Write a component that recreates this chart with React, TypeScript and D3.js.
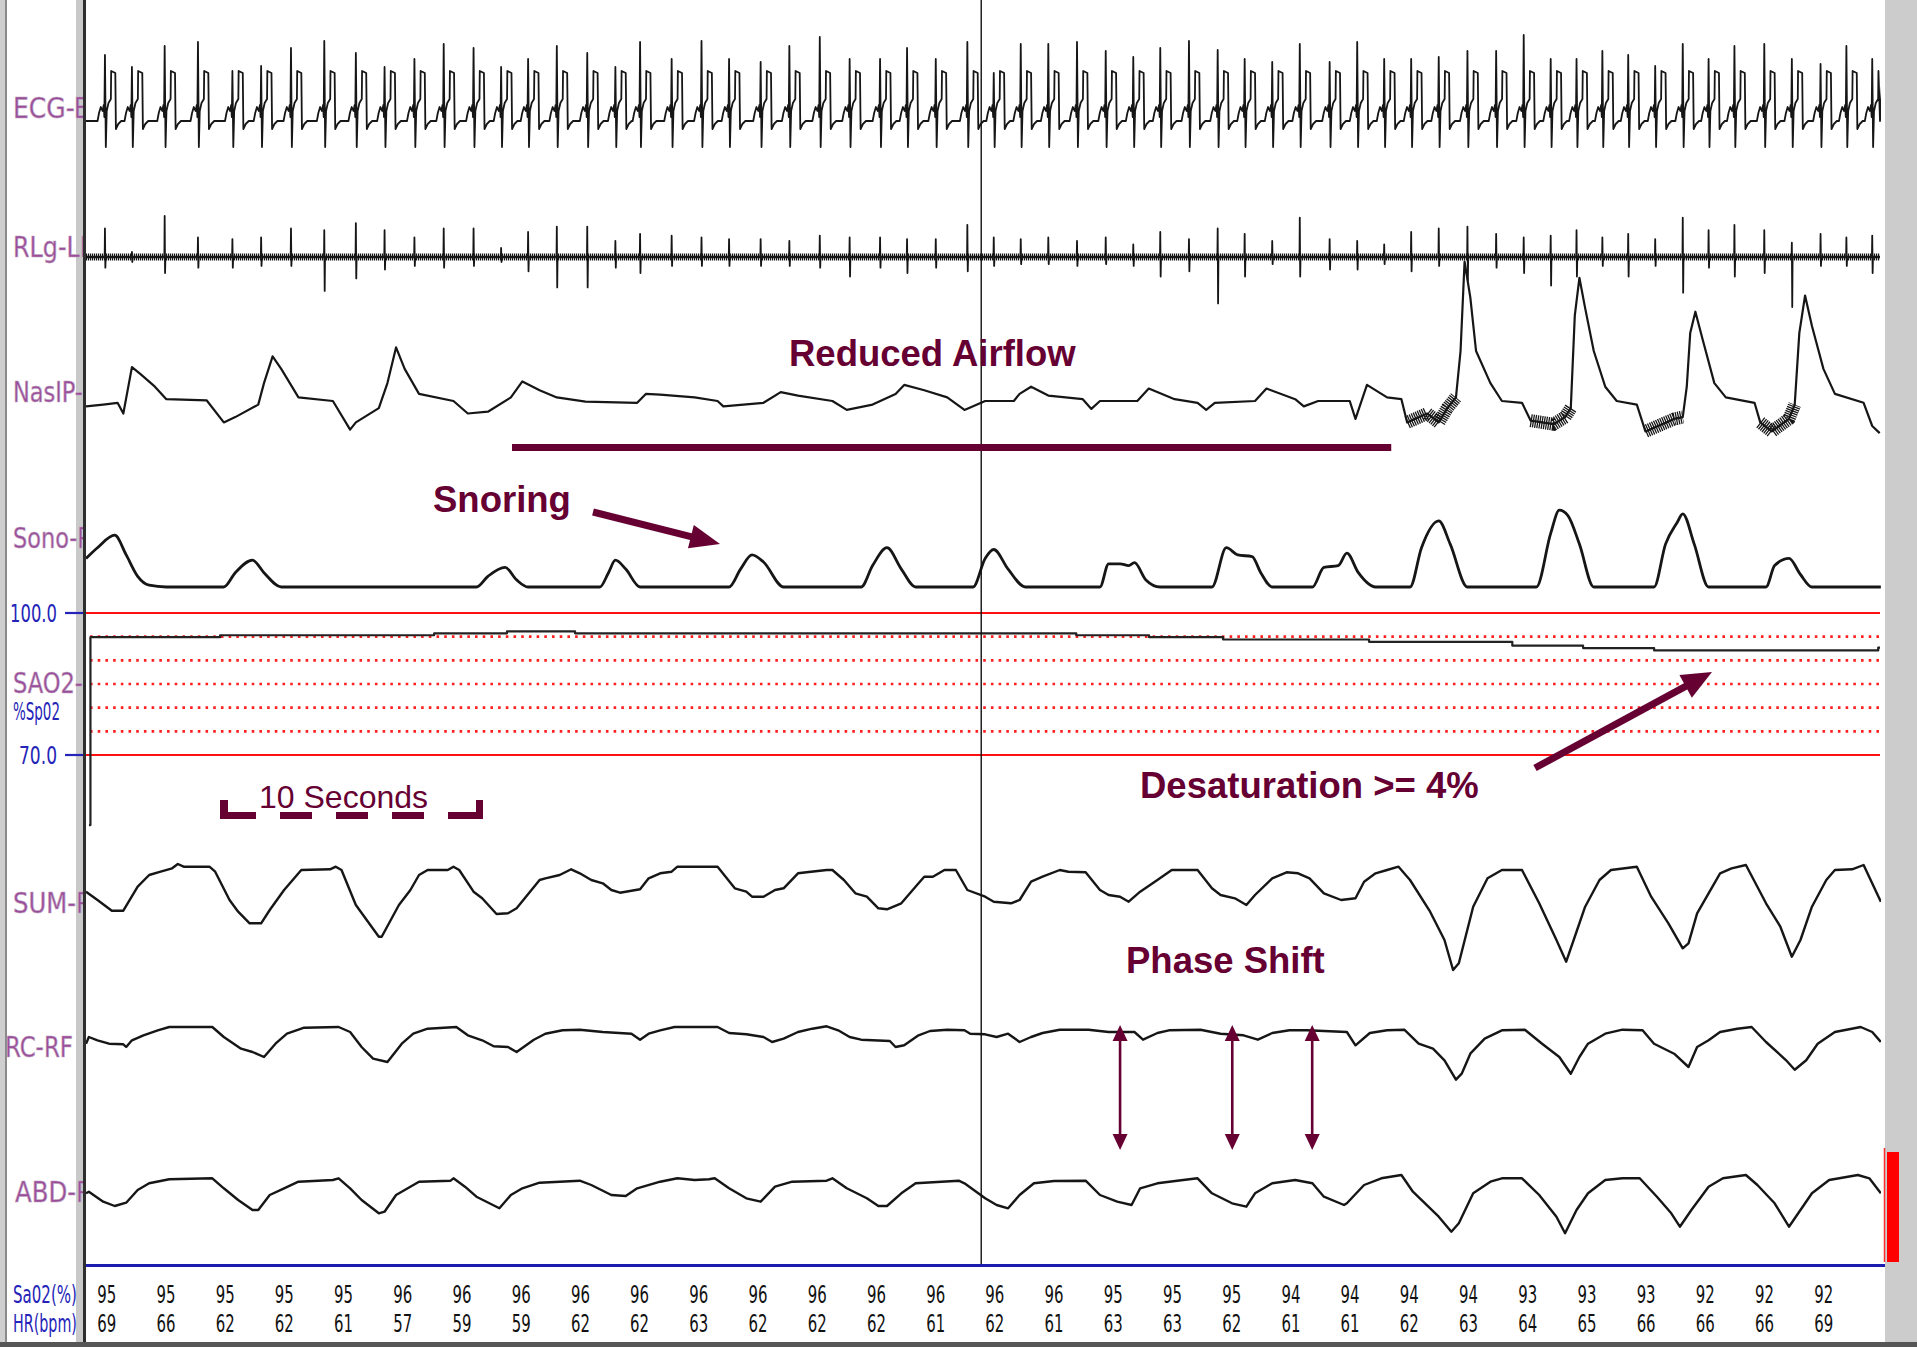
import { useEffect, useRef } from "react";
import * as d3 from "d3";

type Pt = [number, number];

// trace arrays are stored as [sample index, deflection] at this rate
const SR = 51.56;
const EPOCH = 60.6; // seconds on screen

const sao2Col = [95, 95, 95, 95, 95, 96, 96, 96, 96, 96, 96, 96, 96, 96, 96, 96, 96, 95, 95, 95, 94, 94, 94, 94, 93, 93, 93, 92, 92, 92];
const hrCol = [69, 66, 62, 62, 61, 57, 59, 59, 62, 62, 63, 62, 62, 62, 61, 62, 61, 63, 63, 62, 61, 61, 62, 63, 64, 65, 66, 66, 66, 69];

// R-wave sample positions and heights
const ecgBeats = [33, 80, 137, 195, 255, 305, 357, 415, 470, 520, 572, 623, 675, 723, 770, 820, 873, 922, 965, 1020, 1072, 1120, 1175, 1225, 1278, 1330, 1383, 1430, 1480, 1535,
  1581, 1628, 1676, 1726, 1776, 1824, 1871, 1921, 1971, 2018, 2066, 2114, 2166, 2214, 2261, 2308, 2356, 2406, 2456, 2504, 2551, 2596, 2641, 2686, 2733, 2781, 2826, 2871, 2923, 2971, 3021, 3066, 3111];
const ecgR = [66, 54, 75, 79, 50, 55, 73, 80, 68, 54, 62, 77, 73, 54, 62, 75, 68, 54, 79, 62, 80, 62, 59, 75, 84, 62, 62, 73, 62, 79,
  48, 77, 77, 79, 70, 64, 73, 80, 71, 62, 59, 77, 59, 79, 62, 62, 64, 70, 70, 86, 62, 62, 70, 66, 55, 77, 62, 75, 77, 62, 57, 75, 62];
// one beat: [seconds from R, deflection]; NaN = the R peak itself
const ecgShape: Pt[] = [[-0.25, 0], [-0.2, 8], [-0.14, 14], [-0.08, 10], [-0.04, 16], [-0.02, 4], [0, NaN], [0.03, -26], [0.06, 10], [0.12, 18], [0.2, 22], [0.21, 50], [0.35, 48], [0.37, -8], [0.45, -3], [0.55, 0]];

// leg EMG: cardiac artefact spikes at each beat
const rlgUp = [28.6, 5, 41, 19.6, 17.9, 19.6, 28.6, 26.8, 33.9, 26.8, 19.6, 28.6, 28.6, 9, 25, 30.4, 30.4, 16.1, 23.2, 21.4, 19.6, 17.9, 17.9, 16.1, 21.4, 19.6, 19.6, 17.9, 17.9, 32.1,
  19.6, 17.9, 19.6, 16.1, 19.6, 12.5, 25, 17.9, 28.6, 23.2, 16.1, 39.3, 17.9, 16.1, 12.5, 25, 28.6, 30.4, 23.2, 19.6, 21.4, 26.8, 19.6, 23.2, 17.9, 39.3, 26.8, 32.1, 26.8, 14.3, 23.2, 19.6, 21.4];
const rlgDown = [10.7, 5, 16, 10.7, 10.7, 8.9, 8.9, 33.9, 21.4, 12.5, 8.9, 10.7, 8.9, 5, 14.3, 30.4, 30.4, 10.7, 16.1, 8.9, 8.9, 8.9, 8.9, 8.9, 10.7, 19.6, 10.7, 16.1, 10.7, 14.3,
  8.9, 7.1, 7.1, 8.9, 7.1, 8.9, 19.6, 14.3, 46.4, 19.6, 7.1, 19.6, 12.5, 12.5, 7.1, 14.3, 8.9, 23.2, 10.7, 16.1, 28.6, 19.6, 8.9, 19.6, 8.9, 35.7, 10.7, 19.6, 16.1, 50, 8.9, 8.9, 16.1];

const nasip: Pt[] = [[0, -5.4], [30, -3.6], [55, -1.8], [65, -12.5], [80, 33.9], [95, 26.8], [120, 14.3], [140, 1.8], [210, 0.7], [240, -21.4], [260, -16.1], [300, -3.6], [310, 17.9], [325, 44.6], [340, 32.1], [370, 3.6], [430, 0], [460, -28.6], [470, -21.4], [510, -7.1], [525, 17.9], [540, 53.6], [555, 32.1], [580, 7.1], [640, 0], [665, -12.5], [700, -10.7], [740, 3.6], [760, 19.6], [790, 10.7], [820, 3.6], [870, -0.7], [960, -1.8], [975, 7.1], [1000, 6.4], [1060, 3.6], [1100, 0], [1110, -5.4], [1180, -1.8], [1210, 8.9], [1240, 5.4], [1300, 0], [1325, -8.9], [1370, -3.6], [1410, 7.1], [1425, 16.1], [1460, 10.7], [1500, 3.6], [1530, -8.9], [1566, 0],
  [1616, 0], [1626, 7.1], [1646, 14.3], [1676, 5.4], [1736, 1.8], [1751, -7.9], [1766, 0], [1831, 0], [1851, 12.5], [1896, 1.8], [1936, -1.8], [1951, -8.9], [1966, -1.8], [2036, 0], [2056, 12.5], [2106, 1.8], [2121, -5.4], [2146, 0], [2201, 0], [2211, -17.9], [2231, 16.1], [2266, 3.6], [2291, 1.8], [2301, -21.4], [2336, -12.5], [2356, -21.4], [2371, -7.1], [2386, 3.6], [2394, 50], [2401, 139.3], [2411, 103.6], [2421, 50], [2446, 17.9], [2466, 0], [2501, -1.8], [2516, -19.6], [2556, -23.2], [2576, -16.1], [2586, -7.1], [2593, 85.7], [2601, 123.2], [2611, 92.9], [2626, 50], [2646, 14.3], [2666, 0], [2701, -3.6], [2716, -30.4], [2766, -17.9], [2781, -16.1], [2788, 14.3], [2794, 67.9], [2803, 89.3], [2816, 60.7], [2836, 17.9], [2856, 3.6], [2906, -1.8], [2916, -21.4], [2936, -30.4], [2966, -17.9], [2976, -3.6], [2984, 67.9], [2994, 105.4], [3006, 75], [3026, 32.1], [3046, 7.1], [3096, -1.8], [3111, -25], [3124, -32.1]];
// stretches where the cannula signal is noisy
const nasipNoisy: Pt[] = [[2301, 2386], [2516, 2586], [2716, 2781], [2916, 2976]];

const sono: Pt[] = [[0, 28.6], [20, 39.3], [50, 51.8], [70, 32.1], [90, 10.7], [110, 1.8], [140, 0], [240, 0], [260, 14.3], [290, 26.8], [310, 14.3], [340, 0], [680, 0], [700, 10.7], [730, 19.6], [750, 7.1], [770, 0], [895, 0], [910, 14.3], [922, 26.8], [940, 17.9], [965, 0], [1120, 0], [1140, 17.9], [1160, 32.1], [1180, 25], [1215, 0], [1350, 0], [1370, 21.4], [1395, 39.3], [1420, 17.9], [1445, 0], [1545, 0], [1566, 28.6], [1581, 37.5], [1606, 17.9], [1636, 0],
  [1766, 0], [1781, 23.2], [1801, 23.2], [1816, 21.4], [1826, 24.3], [1846, 7.1], [1871, 0], [1961, 0], [1986, 39.3], [2006, 32.1], [2031, 30.4], [2046, 14.3], [2066, 0], [2136, 0], [2156, 19.6], [2181, 21.4], [2196, 33.9], [2216, 14.3], [2246, 0], [2306, 0], [2326, 39.3], [2356, 66.1], [2376, 42.9], [2406, 0], [2526, 0], [2551, 53.6], [2566, 76.8], [2581, 71.4], [2601, 42.9], [2626, 0], [2731, 0], [2751, 42.9], [2771, 64.3], [2781, 73.2], [2801, 42.9], [2826, 0], [2926, 0], [2941, 21.4], [2966, 28.6], [2986, 12.5], [3006, 0], [3126, 0]];

const sumRf: Pt[] = [[0, -1.7], [20, -10], [45, -20.7], [65, -20.7], [90, 3.3], [110, 15], [130, 18.3], [150, 21.7], [160, 26], [170, 23.3], [215, 23.3], [225, 18.3], [250, -10], [265, -21.7], [285, -33.3], [305, -33.3], [320, -20], [345, 0], [375, 20], [425, 20.7], [435, 23.3], [445, 20], [470, -15], [510, -46.7], [515, -46.7], [545, -15], [565, 0], [580, 15], [595, 20], [630, 20], [640, 23.3], [650, 20], [675, -1.7], [690, -8.3], [715, -24], [735, -23.3], [750, -18.3], [790, 10], [800, 11.7], [825, 15], [845, 20.7], [860, 16.7], [880, 10], [900, 6.7], [915, 0], [930, -2.7], [965, 0.7], [980, 11.7], [1000, 16.7], [1020, 18.3], [1030, 23.3], [1100, 23.3], [1130, 1.7], [1150, -1.7], [1160, -6.7], [1180, -6.7], [1200, 0], [1215, 1.7], [1240, 16.7], [1255, 17.7], [1290, 20], [1300, 20], [1320, 10], [1340, -3.3], [1360, -6.7], [1380, -18.3], [1395, -19.3], [1420, -13.3], [1450, 6.7], [1460, 13.3], [1475, 13.3], [1495, 20], [1515, 20], [1535, 0], [1566, -6.7],
  [1581, -11.7], [1611, -13.3], [1626, -10], [1646, 8.3], [1666, 13.3], [1696, 20], [1711, 18.3], [1741, 17.7], [1766, 0], [1781, -5], [1801, -6.7], [1816, -11.7], [1836, -1.7], [1866, 10], [1891, 20], [1936, 20], [1961, 1.7], [1976, -5], [2001, -8.3], [2021, -15], [2036, -5], [2066, 11.7], [2091, 17.7], [2111, 16.7], [2131, 11.7], [2156, -3.3], [2186, -10], [2211, -8.3], [2226, 8.3], [2246, 16.7], [2266, 20], [2286, 23.3], [2306, 10], [2341, -21.7], [2366, -50], [2381, -80], [2391, -73.3], [2416, -16.7], [2441, 11.7], [2466, 20], [2501, 20], [2531, -13.3], [2561, -50], [2578, -71.7], [2591, -50], [2611, -16.7], [2636, 10], [2656, 20], [2701, 23.3], [2726, -6.7], [2756, -33.3], [2781, -58.3], [2791, -53.3], [2806, -23.3], [2826, -3.3], [2846, 16.7], [2866, 21.7], [2891, 25], [2926, -13.3], [2951, -36.7], [2971, -66.7], [2986, -50], [3006, -16.7], [3031, 10], [3046, 20], [3076, 20.7], [3096, 25], [3126, -11.7]];

const rcRf: Pt[] = [[0, -6.7], [5, 0], [20, -3.3], [40, -6.7], [65, -7.3], [70, -10], [80, -3.3], [100, 1.7], [125, 6.7], [145, 10], [220, 10], [240, 0], [270, -11.7], [290, -15], [310, -20], [330, -6.7], [350, 3.3], [380, 9.3], [440, 10], [460, 5], [480, -10], [500, -21.7], [525, -25], [550, -6.7], [570, 3.3], [595, 8.3], [645, 10], [665, 1.7], [690, -3.3], [710, -9.3], [735, -10], [750, -15], [780, -2.7], [800, 3.3], [830, 6.7], [860, 7.3], [900, 5], [950, 3.3], [965, -2.7], [980, 3.3], [1000, 6.7], [1025, 10], [1100, 10], [1120, 4], [1150, 2.7], [1180, 0], [1195, -5], [1215, -1.7], [1240, 5], [1265, 8.3], [1290, 10.7], [1310, 6.7], [1330, 0], [1350, -2.7], [1400, -4], [1410, -10], [1425, -8.3], [1450, 1.7], [1470, 6], [1500, 7.3], [1530, 6.7], [1540, 3.3], [1566, 2.7],
  [1586, 0], [1606, 3.3], [1626, -5], [1646, 0], [1666, 4], [1696, 7.3], [1746, 7.3], [1781, 5], [1826, 5], [1841, -2.7], [1866, 4], [1886, 6.7], [1941, 7.3], [1976, 3.3], [2016, 1.7], [2041, -2.7], [2066, 4], [2096, 6.7], [2126, 6.7], [2196, 5], [2211, -8.3], [2236, 4], [2266, 6.7], [2296, 7.3], [2321, -6.7], [2346, -11.7], [2366, -23.3], [2386, -42.7], [2396, -36.7], [2411, -16.7], [2436, -1.7], [2466, 6.7], [2506, 7.3], [2536, -6.7], [2566, -20], [2586, -36.7], [2601, -20], [2616, -6.7], [2646, 3.3], [2676, 7.3], [2711, 6.7], [2731, -6.7], [2766, -16.7], [2791, -30], [2806, -10], [2826, -3.3], [2846, 5], [2876, 8.3], [2901, 10], [2926, -5], [2961, -23.3], [2976, -32.7], [2996, -23.3], [3016, -6.7], [3046, 5], [3091, 10], [3111, 5], [3126, -5]];

const abdRf: Pt[] = [[0, -3.3], [5, -1.7], [30, -11.7], [50, -16], [70, -12.7], [90, 0], [110, 6.7], [145, 10.7], [220, 11.7], [240, 1.7], [265, -10], [290, -20], [300, -20], [320, -5], [345, 1.7], [370, 8.3], [430, 10], [440, 11.7], [460, 1.7], [480, -10], [510, -23.3], [520, -21.7], [540, -5], [580, 8.3], [635, 9.3], [640, 11.7], [660, 3.3], [680, -6.7], [720, -18.3], [740, -5], [760, 1.7], [790, 7.3], [860, 9.3], [880, 5], [915, -5], [940, -6], [960, 1.7], [1000, 8.3], [1030, 11.7], [1060, 10], [1085, 10.7], [1095, 11.7], [1120, 1.7], [1150, -8.3], [1175, -11.7], [1200, 3.3], [1230, 8.3], [1290, 9.3], [1300, 11.7], [1325, 1.7], [1360, -8.3], [1380, -16], [1395, -16], [1420, -3.3], [1445, 6.7], [1490, 8.3], [1520, 9.3], [1530, 6.7], [1566, -8.3],
  [1586, -15], [1606, -18.3], [1626, -5], [1651, 6.7], [1686, 9], [1741, 9.3], [1766, -5], [1796, -11.7], [1821, -15], [1836, 1.7], [1866, 6.7], [1911, 10], [1936, 11.7], [1961, -3.3], [1996, -13.3], [2021, -16.7], [2036, -3.3], [2066, 6.7], [2106, 10], [2136, 6.7], [2156, -6.7], [2191, -15], [2196, -13.3], [2226, 5], [2256, 11.7], [2291, 15], [2311, -1.7], [2356, -26.7], [2378, -41.7], [2391, -33.3], [2416, -3.3], [2446, 8.3], [2466, 11.7], [2501, 11.7], [2531, -5], [2561, -26.7], [2576, -43.3], [2596, -20], [2616, -3.3], [2646, 10], [2676, 11.7], [2706, 11.7], [2736, -6.7], [2761, -23.3], [2776, -36.7], [2796, -20], [2826, 3.3], [2851, 11.7], [2891, 15], [2911, 5], [2941, -13.3], [2966, -36.7], [2986, -20], [3006, -3.3], [3036, 10], [3086, 15], [3106, 11.7], [3126, -3.3]];

// oximeter trace: [seconds, %SpO2]
const satTrace: Pt[] = [[0.1, 55.2], [0.15, 94.9], [4.53, 95.3], [11.76, 95.7], [14.22, 96.1], [16.52, 95.7], [33.45, 95.3], [35.91, 94.9], [38.41, 94.4], [43.34, 93.9], [48.18, 93.1], [50.57, 92.6], [52.97, 92.1], [60.54, 92.7], [60.6, 92.7]];
const satGrid = [95, 90, 85, 80, 75];

// event markers in seconds
const reducedFlow: Pt = [14.39, 44.09];
const phaseMarks = [34.93, 38.72, 41.42];
const cursorT = 30.24;

const channelLabels = [
  { text: "ECG-B", x: 13, y: 118, len: 78 },
  { text: "RLg-LL", x: 13, y: 257, len: 80 },
  { text: "NasIP-", x: 13, y: 402, len: 70 },
  { text: "Sono-R", x: 13, y: 548, len: 80 },
  { text: "SAO2-", x: 13, y: 693, len: 70 },
  { text: "SUM-R", x: 13, y: 913, len: 80 },
  { text: "RC-RF", x: 5, y: 1057, len: 68 },
  { text: "ABD-R", x: 15, y: 1202, len: 78 },
];

const W = 1917;
const H = 1347;
const plotL = 86;
const plotR = 1880;
const maroon = "#660033";
const ink = "#161616";
const blue = "#2424b8";
const purple = "#9c4c9c";
const narrow = "'Liberation Sans Narrow', 'DejaVu Sans Condensed', 'Arial Narrow', sans-serif";
const bold = "'Liberation Sans', Arial, sans-serif";

// squeeze a text horizontally to a target width (bitmap-font look)
function fitText(t: d3.Selection<SVGTextElement, unknown, null, undefined>, px: number, py: number, width: number, anchor = "start") {
  t.attr("x", 0).attr("y", 0).attr("text-anchor", anchor);
  const natural = (t.node() as SVGTextElement).getComputedTextLength() || width;
  t.attr("transform", `translate(${px},${py}) scale(${width / natural},1)`);
  return t;
}

const App = () => {
  const svgRef = useRef<SVGSVGElement | null>(null);

  useEffect(() => {
    document.body.style.margin = "0";
    document.body.style.overflow = "hidden";
    const svg = d3.select(svgRef.current);
    svg.selectAll("*").remove();

    const x = d3.scaleLinear().domain([0, EPOCH]).range([plotL, plotR]);
    const chan = (c: number) => d3.scaleLinear().domain([-100, 100]).range([c + 100, c - 100]);
    const ySat = d3.scaleLinear().domain([70, 100]).range([755, 613]);

    const defs = svg.append("defs");
    defs.append("clipPath").attr("id", "plot").append("rect")
      .attr("x", plotL).attr("y", 0).attr("width", plotR - plotL + 1).attr("height", 1265);
    defs.append("clipPath").attr("id", "lab").append("rect")
      .attr("x", 0).attr("y", 0).attr("width", 83).attr("height", H);

    svg.append("rect").attr("width", W).attr("height", H).attr("fill", "#fff");

    // window frame
    const frame = svg.append("g");
    frame.append("rect").attr("x", 0).attr("y", 0).attr("width", 5).attr("height", H).attr("fill", "#cfcfcf");
    frame.append("line").attr("x1", 6).attr("x2", 6).attr("y1", 0).attr("y2", H).attr("stroke", "#8a8a8a").attr("stroke-width", 2);
    frame.append("rect").attr("x", 76).attr("y", 0).attr("width", 7).attr("height", H).attr("fill", "#c9c9c9");
    frame.append("line").attr("x1", 84.5).attr("x2", 84.5).attr("y1", 0).attr("y2", H).attr("stroke", "#2e2e2e").attr("stroke-width", 3);
    frame.append("rect").attr("x", 1885).attr("y", 0).attr("width", W - 1885).attr("height", H).attr("fill", "#cccccc");
    frame.append("rect").attr("x", 0).attr("y", 1342).attr("width", W).attr("height", 5).attr("fill", "#565656");

    // SpO2 grid
    const grid = svg.append("g");
    [100, 70].forEach(v => {
      grid.append("line").attr("x1", plotL).attr("x2", plotR).attr("y1", ySat(v)).attr("y2", ySat(v))
        .attr("stroke", "#ff1010").attr("stroke-width", 2.2);
      grid.append("line").attr("x1", 65).attr("x2", 83).attr("y1", ySat(v)).attr("y2", ySat(v))
        .attr("stroke", blue).attr("stroke-width", 2.2);
    });
    satGrid.forEach(v => {
      grid.append("line").attr("x1", 90).attr("x2", plotR).attr("y1", ySat(v)).attr("y2", ySat(v))
        .attr("stroke", "#ff2020").attr("stroke-width", 2.6).attr("stroke-dasharray", "2.6 5.1");
    });

    const traces = svg.append("g").attr("clip-path", "url(#plot)").attr("fill", "none")
      .attr("stroke", ink).attr("stroke-linejoin", "round");

    const draw = (pts: Pt[], c: number, w: number, curve: d3.CurveFactory = d3.curveLinear) => {
      const y = chan(c);
      const line = d3.line<Pt>().x(d => x(d[0] / SR)).y(d => y(d[1])).curve(curve);
      return traces.append("path").attr("d", line(pts)).attr("stroke-width", w);
    };

    // ECG built from beat positions
    const ecgPts: Pt[] = [[0, 0]];
    ecgBeats.forEach((b, i) => {
      ecgShape.forEach(([dt, v]) => {
        ecgPts.push([b + dt * SR, isNaN(v) ? ecgR[i] : v]);
      });
    });
    ecgPts.push([EPOCH * SR, 0]);
    ecgPts.sort((a, b) => a[0] - b[0]);
    draw(ecgPts, 121, 1.8);

    // leg EMG: noisy band plus cardiac spikes
    draw([[0, 0], [EPOCH * SR, 0]], 257, 7).attr("stroke-dasharray", "1.2 0.8");
    draw([[0, 0], [EPOCH * SR, 0]], 257, 2.4);
    const rlgPts: Pt[] = [[0, 0]];
    ecgBeats.forEach((b, i) => {
      rlgPts.push([b - 0.5, 0], [b, rlgUp[i]], [b + 0.7, -rlgDown[i]], [b + 1.3, 0]);
    });
    rlgPts.push([EPOCH * SR, 0]);
    draw(rlgPts, 257, 1.8);

    draw(nasip, 401, 2.2);
    nasipNoisy.forEach(([a, b]) => {
      draw(nasip.filter(p => p[0] >= a && p[0] <= b), 401, 13).attr("stroke-dasharray", "1.3 0.9")
        .attr("stroke-linejoin", "miter").attr("stroke-linecap", "butt");
    });
    draw(sono, 587, 2.8, d3.curveMonotoneX);
    draw(sumRf, 890, 2.4);
    draw(rcRf, 1037, 2.4);
    draw(abdRf, 1190, 2.4);

    const satLine = d3.line<Pt>().x(d => x(d[0])).y(d => ySat(d[1])).curve(d3.curveStepAfter);
    traces.append("path").attr("d", satLine(satTrace)).attr("stroke-width", 2.2).attr("stroke", "#222");

    // cursor and bottom rule
    svg.append("line").attr("x1", x(cursorT)).attr("x2", x(cursorT)).attr("y1", 0).attr("y2", 1265)
      .attr("stroke", "#111").attr("stroke-width", 1.4);
    svg.append("line").attr("x1", plotL).attr("x2", 1885).attr("y1", 1265.5).attr("y2", 1265.5)
      .attr("stroke", "#1c1cb0").attr("stroke-width", 3);
    svg.append("line").attr("x1", 1884.5).attr("x2", 1884.5).attr("y1", 1148).attr("y2", 1262)
      .attr("stroke", "#ff2a2a").attr("stroke-width", 1.5);
    svg.append("rect").attr("x", 1887).attr("y", 1152).attr("width", 12).attr("height", 110).attr("fill", "#ff0000");

    // annotations
    const ann = svg.append("g");
    const arrow = (x1: number, y1: number, x2: number, y2: number, w: number, hl: number, hw: number) => {
      const d = Math.hypot(x2 - x1, y2 - y1);
      const ux = (x2 - x1) / d, uy = (y2 - y1) / d;
      const bx = x2 - ux * hl, by = y2 - uy * hl;
      ann.append("line").attr("x1", x1).attr("y1", y1).attr("x2", bx + ux).attr("y2", by + uy)
        .attr("stroke", maroon).attr("stroke-width", w);
      ann.append("polygon")
        .attr("points", [[x2, y2], [bx - uy * hw / 2, by + ux * hw / 2], [bx + uy * hw / 2, by - ux * hw / 2]].map(p => p.join(",")).join(" "))
        .attr("fill", maroon);
    };

    ann.append("text").attr("x", 789).attr("y", 366).text("Reduced Airflow")
      .attr("font-family", bold).attr("font-weight", "bold").attr("font-size", 36.5).attr("fill", maroon);
    ann.append("line").attr("x1", x(reducedFlow[0])).attr("x2", x(reducedFlow[1])).attr("y1", 447.5).attr("y2", 447.5)
      .attr("stroke", maroon).attr("stroke-width", 7);

    ann.append("text").attr("x", 433).attr("y", 512).text("Snoring")
      .attr("font-family", bold).attr("font-weight", "bold").attr("font-size", 36.5).attr("fill", maroon);
    arrow(593, 512, 720, 544, 7, 30, 24);

    ann.append("text").attr("x", 1140).attr("y", 798).text("Desaturation >= 4%")
      .attr("font-family", bold).attr("font-weight", "bold").attr("font-size", 36.5).attr("fill", maroon);
    arrow(1535, 768, 1712, 672, 7, 30, 26);

    ann.append("text").attr("x", 1126).attr("y", 973).text("Phase Shift")
      .attr("font-family", bold).attr("font-weight", "bold").attr("font-size", 36.5).attr("fill", maroon);
    phaseMarks.forEach(t => {
      const px = x(t);
      arrow(px, 1088, px, 1025, 2.6, 16, 15);
      arrow(px, 1088, px, 1150, 2.6, 16, 15);
    });

    // 10 s scale bracket
    ann.append("text").attr("x", 259).attr("y", 808).text("10 Seconds")
      .attr("font-family", bold).attr("font-size", 32).attr("fill", maroon);
    ann.append("line").attr("x1", 224).attr("x2", 483).attr("y1", 815.5).attr("y2", 815.5)
      .attr("stroke", maroon).attr("stroke-width", 7).attr("stroke-dasharray", "32 24");
    ann.append("line").attr("x1", 224).attr("x2", 224).attr("y1", 800).attr("y2", 819)
      .attr("stroke", maroon).attr("stroke-width", 8);
    ann.append("line").attr("x1", 479.5).attr("x2", 479.5).attr("y1", 800).attr("y2", 819)
      .attr("stroke", maroon).attr("stroke-width", 7);

    // channel labels
    const lab = svg.append("g").attr("clip-path", "url(#lab)");
    channelLabels.forEach(d => {
      const t = lab.append("text").attr("font-family", narrow).attr("font-size", 29).attr("fill", purple)
        .attr("stroke", "#b9a3b9").attr("stroke-width", 0.6).text(d.text);
      fitText(t, d.x, d.y, d.len);
    });

    const blueText = (s: string, xx: number, yy: number, len: number, size: number) => {
      const t = svg.append("text").attr("font-family", narrow).attr("font-size", size).attr("fill", blue).text(s);
      fitText(t, xx, yy, len);
    };
    blueText("100.0", 10, 622, 47, 25);
    blueText("70.0", 19, 764, 38, 25);
    blueText("%Sp02", 13, 720, 47, 24);
    blueText("Sa02(%)", 13, 1303, 64, 24);
    blueText("HR(bpm)", 13, 1332, 64, 24);

    // per-column oximetry readout
    const cols = svg.append("g").attr("font-family", narrow).attr("font-size", 24.5).attr("fill", "#111");
    sao2Col.forEach((v, i) => {
      fitText(cols.append("text").text(v), x(2 * i + 0.7), 1303, 19, "middle");
      fitText(cols.append("text").text(hrCol[i]), x(2 * i + 0.7), 1332, 19, "middle");
    });
  }, []);

  return <svg ref={svgRef} width={W} height={H} style={{ position: "absolute", left: 0, top: 0 }}></svg>;
};

export default App;
